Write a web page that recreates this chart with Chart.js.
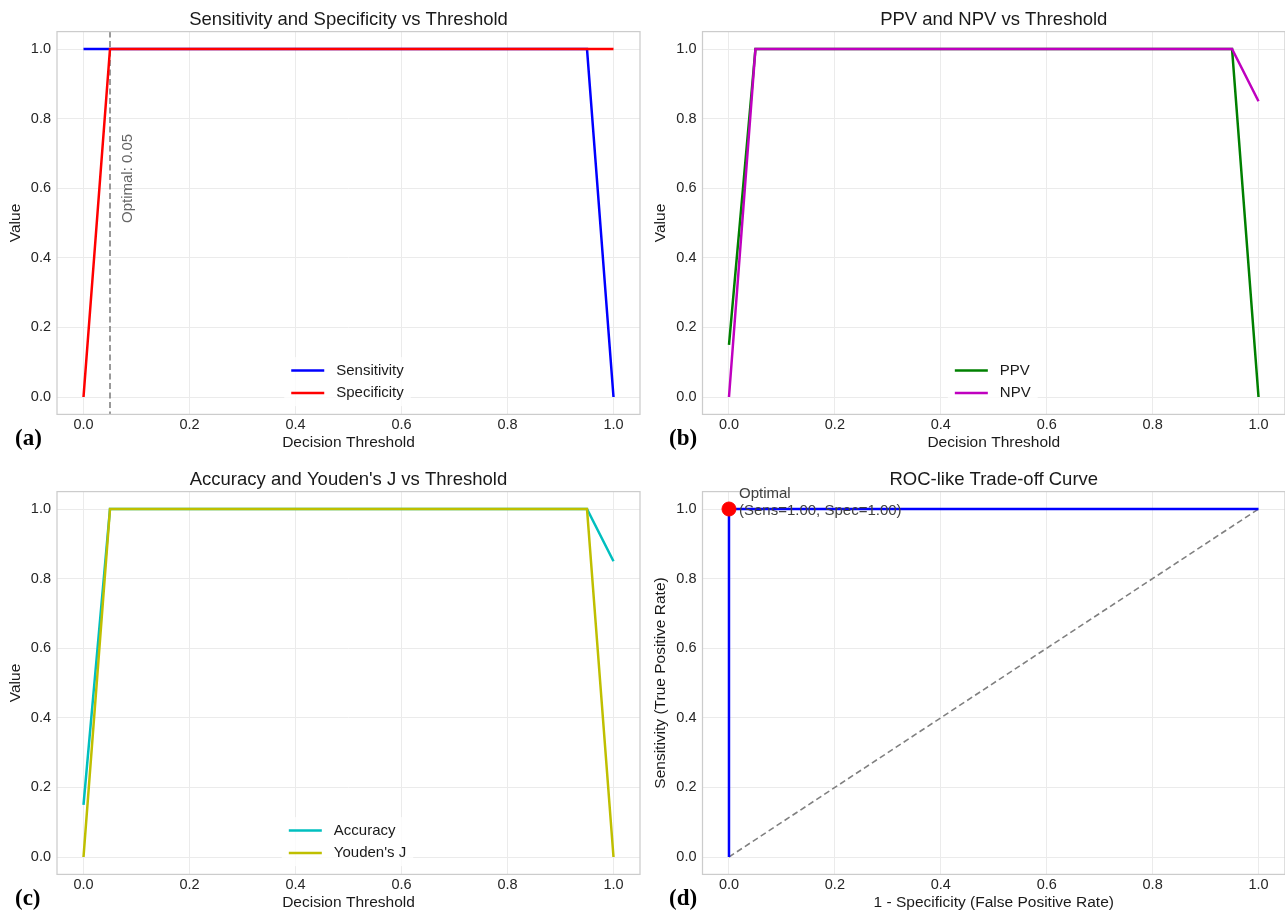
<!DOCTYPE html>
<html lang="en">
<head>
<meta charset="UTF-8" />
<title>Threshold Analysis</title>
<script src="https://cdn.jsdelivr.net/npm/chart.js"></script>
<style>
  body { margin: 0; background: #fff; width: 1285px; height: 913px; position: relative; overflow: hidden; }
  .panel { position: absolute; }
  .panel canvas { display: block; }
  .tag { position: absolute; font-family: 'Liberation Serif', 'DejaVu Serif', serif; font-weight: bold; font-size: 23px; line-height: 1; color: #000; }
</style>
</head>
<body>
  <div class="panel" style="left:0;top:0;width:642px;height:460px"><canvas id="chartA"></canvas></div>
  <div class="panel" style="left:645px;top:0;width:640px;height:460px"><canvas id="chartB"></canvas></div>
  <div class="panel" style="left:0;top:460px;width:642px;height:453px"><canvas id="chartC"></canvas></div>
  <div class="panel" style="left:645px;top:460px;width:640px;height:453px"><canvas id="chartD"></canvas></div>

  <div class="tag" style="left:15px;top:426px">(a)</div>
  <div class="tag" style="left:669px;top:426px">(b)</div>
  <div class="tag" style="left:15px;top:886px">(c)</div>
  <div class="tag" style="left:669px;top:886px">(d)</div>

<script>
// data
const thresholds  = [0.00, 0.05, 0.10, 0.15, 0.20, 0.25, 0.30, 0.35, 0.40, 0.45, 0.50, 0.55, 0.60, 0.65, 0.70, 0.75, 0.80, 0.85, 0.90, 0.95, 1.00];
const sensitivity = [1, 1, 1, 1, 1, 1, 1, 1, 1, 1, 1, 1, 1, 1, 1, 1, 1, 1, 1, 1, 0];
const specificity = [0, 1, 1, 1, 1, 1, 1, 1, 1, 1, 1, 1, 1, 1, 1, 1, 1, 1, 1, 1, 1];
const ppv         = [0.15, 1, 1, 1, 1, 1, 1, 1, 1, 1, 1, 1, 1, 1, 1, 1, 1, 1, 1, 1, 0];
const npv         = [0, 1, 1, 1, 1, 1, 1, 1, 1, 1, 1, 1, 1, 1, 1, 1, 1, 1, 1, 1, 0.85];
const accuracy    = [0.15, 1, 1, 1, 1, 1, 1, 1, 1, 1, 1, 1, 1, 1, 1, 1, 1, 1, 1, 1, 0.85];
const youdenJ     = [0, 1, 1, 1, 1, 1, 1, 1, 1, 1, 1, 1, 1, 1, 1, 1, 1, 1, 1, 1, 0];
const fpr         = [1, 0, 0, 0, 0, 0, 0, 0, 0, 0, 0, 0, 0, 0, 0, 0, 0, 0, 0, 0, 0];
const chanceX     = [0, 1];
const chanceY     = [0, 1];
const tickValues  = [0, 0.2, 0.4, 0.6, 0.8, 1.0];
const optimalThreshold = 0.05;
const optimalPoint = { x: 0, y: 1 };

const FONT = "'Liberation Sans', Arial, sans-serif";

function line(label, xs, ys, color, order, extra) {
  return Object.assign({
    label: label,
    data: xs.map((x, i) => ({ x: x, y: ys[i] })),
    showLine: true, borderColor: color, backgroundColor: color,
    borderWidth: 2.5, pointRadius: 0, pointHoverRadius: 0, tension: 0, order: order
  }, extra || {});
}

function axis(title, isX, size, titlePad) {
  return {
    type: 'linear', min: -0.05, max: 1.05,
    afterBuildTicks: s => { s.ticks = tickValues.map(v => ({ value: v })); },
    afterFit: s => {
      if (isX) { s.height = size; s.paddingLeft = 0; s.paddingRight = 0; }
      else { s.width = size; s.paddingTop = 0; s.paddingBottom = 0; }
    },
    grid: { color: '#ebebeb', lineWidth: 1, drawTicks: false },
    border: { display: false },
    ticks: { color: '#262626', font: { family: FONT, size: 14.5 }, padding: isX ? 2 : 6, maxRotation: 0, callback: v => v.toFixed(1) },
    title: {
      display: true, text: title, color: '#1a1a1a', font: { family: FONT, size: 15.5 },
      padding: isX ? { top: 0, bottom: titlePad } : { top: titlePad, bottom: 0 }
    }
  };
}

// title centred over the plot area, as matplotlib does
const axesTitle = {
  id: 'axesTitle',
  afterDraw(chart, args, opts) {
    const { ctx, chartArea: a } = chart;
    ctx.save();
    ctx.font = '18.5px ' + FONT;
    ctx.fillStyle = '#1a1a1a';
    ctx.textAlign = 'center';
    ctx.textBaseline = 'middle';
    ctx.fillText(opts.text, (a.left + a.right) / 2, a.top - 12);
    ctx.restore();
  }
};

// light grey box round each plot area
const framePlugin = {
  id: 'frame',
  afterDatasetsDraw(chart) {
    const { ctx, chartArea: a } = chart;
    ctx.save();
    ctx.strokeStyle = '#cccccc';
    ctx.lineWidth = 1.25;
    ctx.strokeRect(a.left, a.top, a.right - a.left, a.bottom - a.top);
    ctx.restore();
  }
};

// legend drawn inside the plot, lower centre
const boxLegend = {
  id: 'boxLegend',
  afterDraw(chart, args, opts) {
    if (!opts.show) return;
    const { ctx, chartArea: a } = chart;
    const items = chart.data.datasets.filter(d => !d.noLegend);
    ctx.save();
    ctx.font = '15px ' + FONT;
    const textW = Math.max(...items.map(d => ctx.measureText(d.label).width));
    const pad = 7, lineLen = 33, gap = 12, rowH = 22.5;
    const w = pad + lineLen + gap + textW + pad;
    const x0 = (a.left + a.right) / 2 - w / 2 - 1;
    const lastY = a.bottom - 21.5;
    const firstY = lastY - (items.length - 1) * rowH;
    ctx.fillStyle = 'rgba(255,255,255,0.8)';
    ctx.fillRect(x0, firstY - rowH / 2 - 2, w, lastY - firstY + rowH + 4);
    items.forEach((d, i) => {
      const yy = firstY + i * rowH;
      ctx.strokeStyle = d.borderColor;
      ctx.lineWidth = 2.5;
      ctx.beginPath();
      ctx.moveTo(x0 + pad, yy);
      ctx.lineTo(x0 + pad + lineLen, yy);
      ctx.stroke();
      ctx.fillStyle = '#1a1a1a';
      ctx.textBaseline = 'middle';
      ctx.fillText(d.label, x0 + pad + lineLen + gap, yy);
    });
    ctx.restore();
  }
};

function panel(id, o) {
  return new Chart(document.getElementById(id), {
    type: 'scatter',
    data: { datasets: o.datasets },
    options: {
      responsive: true, maintainAspectRatio: false, animation: false,
      layout: { autoPadding: false, padding: { left: 0, right: o.padRight, top: 31.6, bottom: 0 } },
      plugins: {
        legend: { display: false },
        tooltip: { enabled: false },
        title: { display: false },
        axesTitle: { text: o.title },
        boxLegend: { show: o.legend }
      },
      scales: {
        x: axis(o.xTitle, true, o.xHeight, o.xTitlePad),
        y: axis(o.yTitle, false, o.yWidth, 6.7)
      }
    },
    plugins: [framePlugin, boxLegend, axesTitle].concat(o.extra || [])
  });
}

const thresholdMarker = {
  id: 'thresholdMarker',
  beforeDatasetsDraw(chart) {
    const { ctx, chartArea: a, scales: { x } } = chart;
    const px = x.getPixelForValue(optimalThreshold);
    ctx.save();
    ctx.strokeStyle = '#808080';
    ctx.lineWidth = 1.6;
    ctx.setLineDash([6, 3.5]);
    ctx.beginPath();
    ctx.moveTo(px, a.top);
    ctx.lineTo(px, a.bottom);
    ctx.stroke();
    ctx.restore();
  },
  afterDatasetsDraw(chart) {
    const { ctx, scales: { x, y } } = chart;
    ctx.save();
    ctx.translate(x.getPixelForValue(optimalThreshold + 0.02), y.getPixelForValue(0.5));
    ctx.rotate(-Math.PI / 2);
    ctx.font = '15px ' + FONT;
    ctx.fillStyle = '#666666';
    ctx.textAlign = 'left';
    ctx.textBaseline = 'top';
    ctx.fillText('Optimal: ' + optimalThreshold.toFixed(2), 0, 0);
    ctx.restore();
  }
};

const optimalLabel = {
  id: 'optimalLabel',
  afterDatasetsDraw(chart) {
    const { ctx, scales: { x, y } } = chart;
    const px = x.getPixelForValue(optimalPoint.x), py = y.getPixelForValue(optimalPoint.y);
    ctx.save();
    ctx.font = '15px ' + FONT;
    ctx.fillStyle = '#404040';
    ctx.textBaseline = 'middle';
    ctx.fillText('Optimal', px + 10, py - 15);
    ctx.fillText('(Sens=' + optimalPoint.y.toFixed(2) + ', Spec=' + (1 - optimalPoint.x).toFixed(2) + ')', px + 10, py + 2);
    ctx.restore();
  }
};

panel('chartA', {
  title: 'Sensitivity and Specificity vs Threshold',
  xTitle: 'Decision Threshold', yTitle: 'Value',
  padRight: 2, yWidth: 57, xHeight: 45.6, xTitlePad: 7.7, legend: true,
  datasets: [
    line('Sensitivity', thresholds, sensitivity, '#0000ff', 2),
    line('Specificity', thresholds, specificity, '#ff0000', 1)
  ],
  extra: [thresholdMarker]
});

panel('chartB', {
  title: 'PPV and NPV vs Threshold',
  xTitle: 'Decision Threshold', yTitle: 'Value',
  padRight: 0, yWidth: 57.5, xHeight: 45.6, xTitlePad: 7.7, legend: true,
  datasets: [
    line('PPV', thresholds, ppv, '#008000', 2),
    line('NPV', thresholds, npv, '#bf00bf', 1)
  ]
});

panel('chartC', {
  title: "Accuracy and Youden's J vs Threshold",
  xTitle: 'Decision Threshold', yTitle: 'Value',
  padRight: 2, yWidth: 57, xHeight: 38.6, xTitlePad: 0.7, legend: true,
  datasets: [
    line('Accuracy', thresholds, accuracy, '#00bfbf', 2),
    line("Youden's J", thresholds, youdenJ, '#bfbf00', 1)
  ]
});

panel('chartD', {
  title: 'ROC-like Trade-off Curve',
  xTitle: '1 - Specificity (False Positive Rate)', yTitle: 'Sensitivity (True Positive Rate)',
  padRight: 0, yWidth: 57.5, xHeight: 38.6, xTitlePad: 0.7, legend: false,
  datasets: [
    line('ROC', fpr, sensitivity, '#0000ff', 2),
    line('Chance', chanceX, chanceY, '#808080', 3, { borderWidth: 1.6, borderDash: [6, 3.5] }),
    { label: 'Optimal', data: [optimalPoint], pointRadius: 7, pointBackgroundColor: '#ff0000', pointBorderColor: '#ff0000', showLine: false, order: 0 }
  ],
  extra: [optimalLabel]
});
</script>
</body>
</html>
